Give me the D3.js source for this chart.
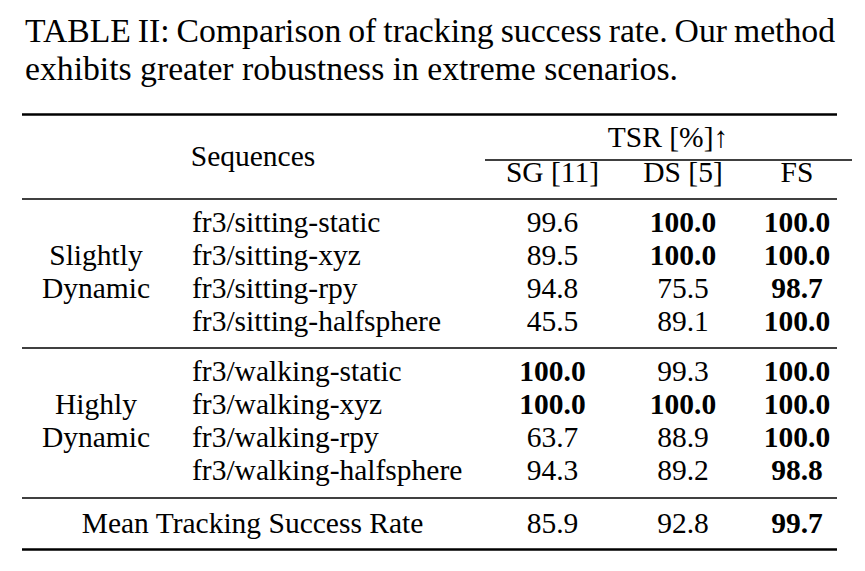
<!DOCTYPE html>
<html>
<head>
<meta charset="utf-8">
<script src="https://cdn.jsdelivr.net/npm/d3@7"></script>
<style>
  body { margin: 0; background: #fff; }
  text { font-family: "Liberation Serif", "Times New Roman", serif; fill: #000; }
</style>
</head>
<body>
<svg id="chart" width="865" height="571"></svg>
<script>
const captionLines = ["TABLE II: Comparison of tracking success rate. Our method",
                      "exhibits greater robustness in extreme scenarios."];
const methods = ["SG [11]", "DS [5]", "FS"];
const groups = [["Slightly", "Dynamic"], ["Highly", "Dynamic"]];
const sequences = [
  ["fr3/sitting-static", "fr3/sitting-xyz", "fr3/sitting-rpy", "fr3/sitting-halfsphere"],
  ["fr3/walking-static", "fr3/walking-xyz", "fr3/walking-rpy", "fr3/walking-halfsphere"]
];
const sgValues = [[99.6, 89.5, 94.8, 45.5], [100.0, 100.0, 63.7, 94.3]];
const dsValues = [[100.0, 100.0, 75.5, 89.1], [99.3, 100.0, 88.9, 89.2]];
const fsValues = [[100.0, 100.0, 98.7, 100.0], [100.0, 100.0, 100.0, 98.8]];
const meanLabel = "Mean Tracking Success Rate";
const meanValues = [85.9, 92.8, 99.7];

const svg = d3.select("#chart");
svg.append("rect").attr("width", 865).attr("height", 571).attr("fill", "#fff");

// caption, each line spread word by word to its width in the picture
const capSize = 33.7;
function justified(str, y, x0, x1) {
  const g = svg.append("g");
  const words = str.split(" ");
  const nodes = words.map(w => g.append("text").attr("font-size", capSize).attr("y", y).text(w));
  const widths = nodes.map(n => n.node().getComputedTextLength());
  const gap = (x1 - x0 - d3.sum(widths)) / (words.length - 1);
  let cx = x0;
  nodes.forEach((n, i) => { n.attr("x", cx); cx += widths[i] + gap; });
}
justified(captionLines[0], 42, 25, 835);
justified(captionLines[1], 80, 25, 678);

// scales
const x = d3.scaleOrdinal().domain(methods).range([552.5, 683, 797]);
const rowY = d3.scaleLinear().domain([0, 1]).range([0, 33]);
const groupTop = d3.scaleOrdinal().domain([0, 1]).range([232, 381]);
const fs = 29.5;

function rule(x1, x2, y, w) {
  svg.append("line").attr("x1", x1).attr("x2", x2).attr("y1", y).attr("y2", y)
    .attr("stroke", "#000").attr("stroke-width", w);
}
rule(22, 837, 114.5, 2.6);
rule(485, 852, 160, 1.3);
rule(22, 837, 199, 1.6);
rule(22, 837, 348, 1.6);
rule(22, 837, 498, 1.6);
rule(22, 837, 549.5, 2.6);

// header
svg.append("text").attr("font-size", fs).attr("text-anchor", "middle")
  .attr("x", 253).attr("y", 166).text("Sequences");
svg.append("text").attr("font-size", fs).attr("text-anchor", "middle")
  .attr("x", 668).attr("y", 147).text("TSR [%]↑");
svg.selectAll(".head").data(methods).enter().append("text")
  .attr("class", "head").attr("font-size", fs).attr("text-anchor", "middle")
  .attr("x", d => x(d)).attr("y", 182).text(d => d);

// body
groups.forEach((g, gi) => {
  const top = groupTop(gi);
  svg.selectAll(".grp" + gi).data(g).enter().append("text")
    .attr("font-size", fs).attr("text-anchor", "middle")
    .attr("x", 96).attr("y", (d, i) => top + rowY(i + 1)).text(d => d);

  sequences[gi].forEach((s, ri) => {
    const y = top + rowY(ri);
    svg.append("text").attr("font-size", fs).attr("x", 192).attr("y", y).text(s);
    const vals = [sgValues[gi][ri], dsValues[gi][ri], fsValues[gi][ri]];
    const best = d3.max(vals);
    svg.selectAll(null).data(vals).enter().append("text")
      .attr("font-size", fs).attr("text-anchor", "middle")
      .attr("font-weight", d => d === best ? "bold" : "normal")
      .attr("x", (d, i) => x(methods[i])).attr("y", y)
      .text(d => d.toFixed(1));
  });
});

// mean row
svg.append("text").attr("font-size", fs).attr("text-anchor", "middle")
  .attr("x", 252.5).attr("y", 533).text(meanLabel);
const bestMean = d3.max(meanValues);
svg.selectAll(".mean").data(meanValues).enter().append("text")
  .attr("class", "mean").attr("font-size", fs).attr("text-anchor", "middle")
  .attr("font-weight", d => d === bestMean ? "bold" : "normal")
  .attr("x", (d, i) => x(methods[i])).attr("y", 533).text(d => d.toFixed(1));
</script>
</body>
</html>
